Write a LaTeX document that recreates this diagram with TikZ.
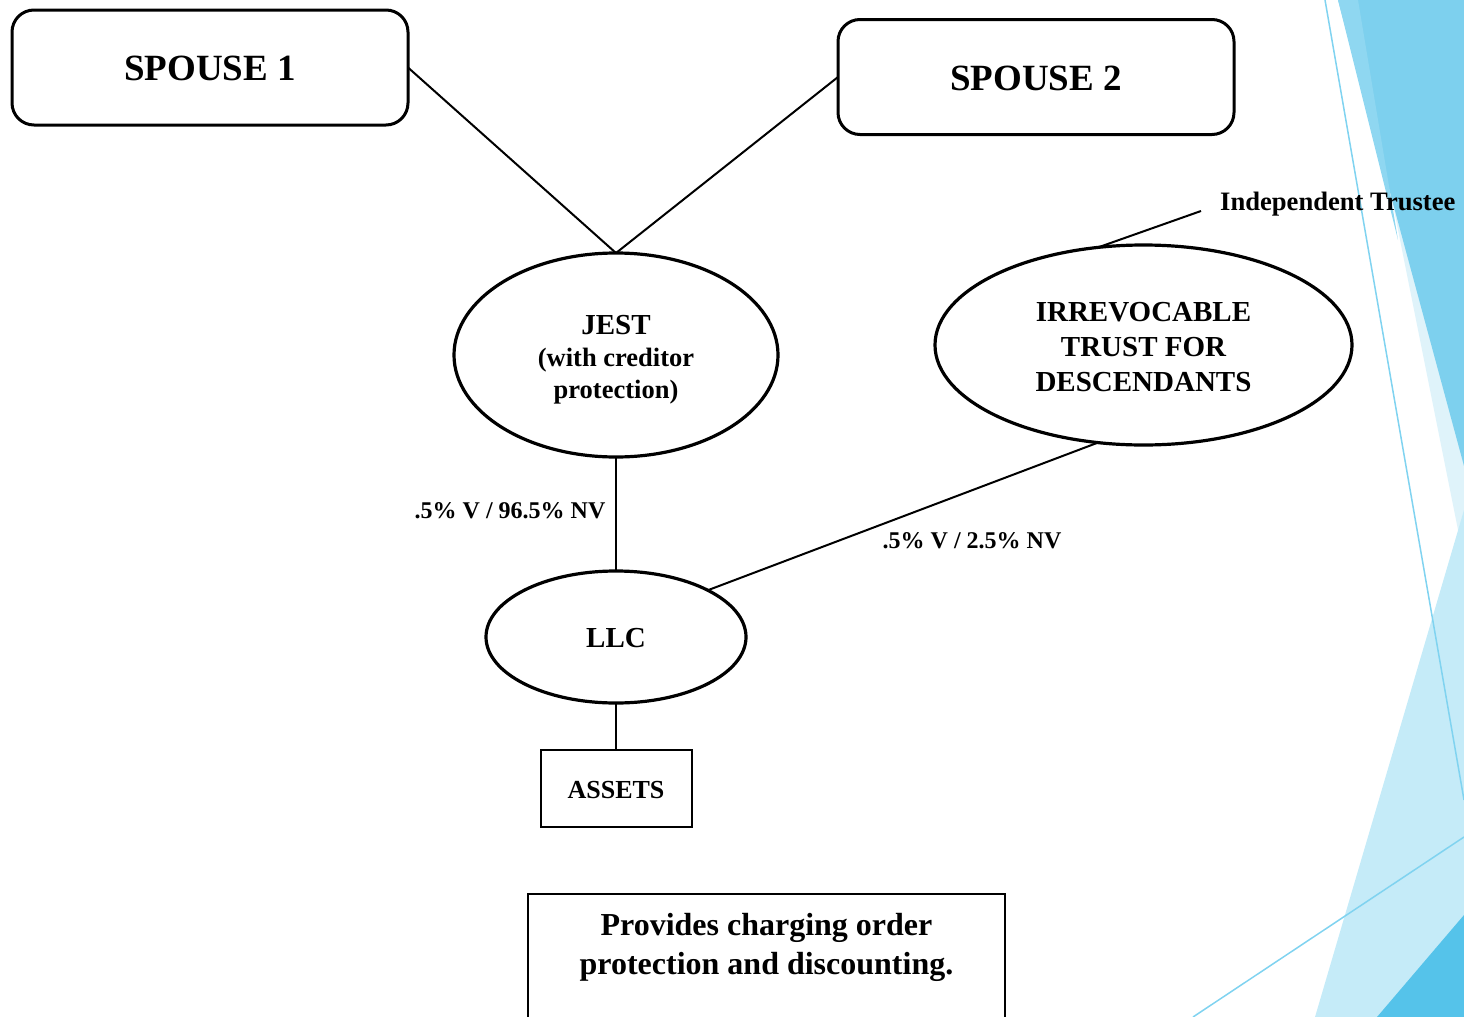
\documentclass[tikz,border=0pt]{standalone}
\usepackage{fontspec}
\setmainfont{Liberation Serif}
\usetikzlibrary{shapes.geometric}

\definecolor{facetMid}{HTML}{7DD0EE}
\definecolor{facetSliver}{HTML}{8FD7F1}
\definecolor{facetPale}{HTML}{DFF3FA}
\definecolor{facetLight}{HTML}{C5EBF8}
\definecolor{facetDeep}{HTML}{55C3EA}
\definecolor{facetLine}{HTML}{80D3F0}

% lower a box's ink without changing the space it reports
\newcommand{\nudgedown}[2]{\raisebox{-#1}[\height][\depth]{#2}}
\newcommand{\stackc}[1]{\begin{tabular}{@{}c@{}}#1\end{tabular}}

\tikzset{
  personbox/.style={draw, line width=3pt, rounded corners=22pt,
    minimum width=396pt, minimum height=115pt, inner sep=0pt, outer sep=0pt,
    font=\fontsize{37}{44}\selectfont\bfseries},
  entity/.style={draw, ellipse, line width=3.2pt, inner sep=0pt, outer sep=0pt},
  link/.style={line width=2pt},
  pct/.style={inner sep=0pt, font=\fontsize{24}{28}\selectfont\bfseries},
  decoline/.style={draw=facetLine, line width=1.5pt}
}

\begin{document}
\begin{tikzpicture}[x=1pt,y=-1pt]
\useasboundingbox (0,0) rectangle (1464,1017);

% faceted background strip on the right
\begin{scope}
  \clip (0,0) rectangle (1464,1017);
  \fill[facetPale]   (1352,0) -- (1464,0) -- (1464,560) -- cycle;
  \fill[facetMid]    (1338,0) -- (1464,0) -- (1464,466) -- cycle;
  \fill[facetSliver] (1338,0) -- (1358,0) -- (1398,240) -- cycle;
  \fill[facetLight]  (1315,1017) -- (1464,510) -- (1464,1017) -- cycle;
  \fill[facetDeep]   (1377,1017) -- (1464,915) -- (1464,1017) -- cycle;
  \draw[decoline] (1325,0) -- (1464,800);
  \draw[decoline] (1193,1017) -- (1464,837);
\end{scope}

% spouses
\node[personbox] (spouse1) at (210,67.5) {\nudgedown{1pt}{SPOUSE 1}};
\node[personbox] (spouse2) at (1036,77) {\nudgedown{1pt}{SPOUSE 2}};

% trusts and company
\node[entity, minimum width=324pt, minimum height=204pt,
      font=\fontsize{26.5}{32}\selectfont\bfseries] (jest) at (616,355)
  {\nudgedown{5pt}{\stackc{{\fontsize{29}{32}\selectfont JEST}\\(with creditor\\protection)}}};
\node[entity, minimum width=417pt, minimum height=200pt,
      font=\fontsize{29}{35}\selectfont\bfseries] (irr) at (1143.5,345)
  {\nudgedown{4.5pt}{\stackc{IRREVOCABLE\\TRUST FOR\\DESCENDANTS}}};
\node[entity, minimum width=260pt, minimum height=132pt,
      font=\fontsize{29}{34}\selectfont\bfseries] (llc) at (616,637)
  {\nudgedown{1pt}{LLC}};

\node[draw, line width=2pt, minimum width=151pt, minimum height=77pt,
      inner sep=0pt, outer sep=0pt, font=\fontsize{26}{30}\selectfont\bfseries]
  (assets) at (616,788.5) {\nudgedown{2pt}{ASSETS}};

% trustee label
\node[anchor=west, inner sep=0pt, font=\fontsize{26.6}{30}\selectfont\bfseries]
  (trustee) at (1220,204) {Independent Trustee};
\coordinate (trusteeend) at (1201,211);

% ownership labels
\node[pct] (pctjest) at (510,511) {.5\% V / 96.5\% NV};
\node[pct] (pctirr) at (972,541) {.5\% V / 2.5\% NV};

% note box, running off the lower edge
\node[draw, line width=1.5pt, anchor=north, minimum width=477pt,
      minimum height=160pt, inner sep=0pt] (notebox) at (766.5,893) {};
\node[align=center, inner sep=0pt, font=\fontsize{32}{39}\selectfont\bfseries]
  (notetext) at (766.5,947) {Provides charging order\\protection and discounting.};

% connectors
\draw[link] (spouse1.east) -- (jest.north);
\draw[link] (spouse2.west) -- (jest.north);
\draw[link] (jest.south) -- (llc.north);
\draw[link] (llc.27.5) -- (irr.245.6);
\draw[link] (llc.south) -- (assets.north);
\draw[link] (irr.115) -- (trusteeend);
\end{tikzpicture}
\end{document}
